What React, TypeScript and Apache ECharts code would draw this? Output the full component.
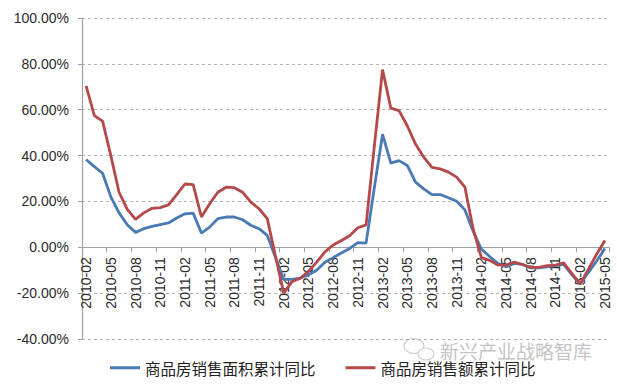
import React, { useEffect, useRef } from "react";
import * as echarts from "echarts";

const years = [2010, 2011, 2012, 2013, 2014, 2015];
const categories: string[] = [];
years.forEach((y) => {
  const start = y === 2010 ? 2 : 1;
  const end = y === 2015 ? 5 : 12;
  for (let m = start; m <= end; m++) categories.push(`${y}-${m < 10 ? "0" + m : m}`);
});

const seriesNames = ["商品房销售面积累计同比", "商品房销售额累计同比"];

// 商品房销售面积累计同比 (%)
const areaYoY = [
  38.3, 35.2, 32.3, 22, 15, 9.8, 6.5, 8.1, 9.1, 9.9, 10.6,
  12.8, 14.6, 14.9, 6.2, 8.8, 12.5, 13.2, 13.2, 12, 9.6, 8.1, 5.2,
  -4.5, -14, -14, -13.5, -12, -10, -6.5, -4.5, -2.5, -0.5, 2, 1.8,
  26, 49.3, 36.7, 37.8, 35.7, 28.4, 25.5, 23, 23, 21.6, 20.1, 16.3,
  7, -0.8, -4, -7, -8.5, -7, -7.5, -9, -9, -8.5, -8, -7.5,
  -12, -16, -11, -6, -0.5,
];

// 商品房销售额累计同比 (%)
const amountYoY = [
  70.4, 57.4, 55, 40, 24, 16.5, 12.2, 15, 17, 17.3, 18.5,
  23, 27.6, 27.3, 13.2, 19, 24, 26.2, 26, 24, 19.7, 16.8, 12.5,
  -4, -20, -15, -13.5, -10.5, -6.5, -2, 1, 3, 5, 8.5, 9.8,
  44, 77.5, 60.7, 59.6, 53, 45, 39.3, 34.9, 34.2, 32.8, 30.6, 26.2,
  8, -4.5, -5.7, -7.7, -7.8, -6.5, -7.5, -8.8, -8.8, -8, -7.8, -6.8,
  -11.5, -16, -9.5, -3, 3,
];

const yMin = -40;
const yMax = 100;
const yStep = 20;

const watermark = "新兴产业战略智库";

const GRID_TOP = 18;
const GRID_BOTTOM = 45;
const HEIGHT = 384;

export default function App() {
  const ref = useRef<HTMLDivElement>(null);
  useEffect(() => {
    if (!ref.current) return;
    const chart = echarts.init(ref.current, null, { renderer: "svg" });
    const labelFont = "'Liberation Sans', Arial, sans-serif";
    const gridH = HEIGHT - GRID_TOP - GRID_BOTTOM;
    // move the bottom x axis up to the zero line
    const zeroOffset = -(gridH * (0 - yMin)) / (yMax - yMin);
    chart.setOption({
      animation: false,
      backgroundColor: "#ffffff",
      grid: {
        left: 82,
        right: 8,
        top: GRID_TOP,
        bottom: GRID_BOTTOM,
        containLabel: false,
        outerBoundsMode: "none",
      },
      legend: {
        left: 105,
        top: 355,
        itemGap: 30,
        itemWidth: 30,
        itemHeight: 3,
        icon: "rect",
        textStyle: {
          fontFamily: "'Noto Sans CJK SC', sans-serif",
          fontSize: 15.5,
          color: "#222",
        },
        data: seriesNames,
      },
      xAxis: {
        type: "category",
        data: categories,
        boundaryGap: true,
        position: "bottom",
        offset: zeroOffset,
        axisLine: { onZero: false, lineStyle: { color: "#a0a0a0", width: 1.2 } },
        axisTick: { show: true, interval: 2, length: 5, lineStyle: { color: "#a0a0a0" } },
        axisLabel: {
          interval: 2,
          rotate: 90,
          margin: 10,
          fontSize: 14,
          fontFamily: labelFont,
          color: "#2b2b2b",
        },
        splitLine: { show: false },
      },
      yAxis: {
        type: "value",
        min: yMin,
        max: yMax,
        interval: yStep,
        axisLine: { show: true, lineStyle: { color: "#a0a0a0", width: 1.2 } },
        axisTick: { show: true, length: 4, lineStyle: { color: "#a0a0a0" } },
        axisLabel: {
          margin: 13,
          fontSize: 14,
          fontFamily: labelFont,
          color: "#2b2b2b",
          formatter: (v: number) => v.toFixed(2) + "%",
        },
        splitLine: { show: true, lineStyle: { color: "#b5b5b5", type: [3, 3], width: 1 } },
      },
      series: [
        {
          name: seriesNames[0],
          type: "line",
          data: areaYoY,
          symbol: "none",
          lineStyle: { color: "#4a7ab5", width: 2.8 },
          itemStyle: { color: "#4a7ab5" },
        },
        {
          name: seriesNames[1],
          type: "line",
          data: amountYoY,
          symbol: "none",
          lineStyle: { color: "#b5484a", width: 2.8 },
          itemStyle: { color: "#b5484a" },
        },
      ],
      graphic: [
        {
          type: "ellipse",
          shape: { cx: 414, cy: 346, rx: 10, ry: 7.5 },
          style: { fill: "none", stroke: "#cfcfcf", lineWidth: 1.2 },
        },
        {
          type: "ellipse",
          shape: { cx: 426, cy: 354, rx: 8, ry: 6 },
          style: { fill: "#fff", stroke: "#cfcfcf", lineWidth: 1.2 },
        },
        {
          type: "text",
          left: 440,
          top: 340,
          style: {
            text: watermark,
            fontSize: 19,
            lineHeight: 20,
            fontFamily: "'Noto Sans CJK SC', sans-serif",
            fill: "#c4c4c4",
          },
        },
      ],
    });
    return () => chart.dispose();
  }, []);
  return (
    <div
      ref={ref}
      style={{ position: "fixed", left: 0, top: 0, width: 617, height: 384 }}
    />
  );
}
